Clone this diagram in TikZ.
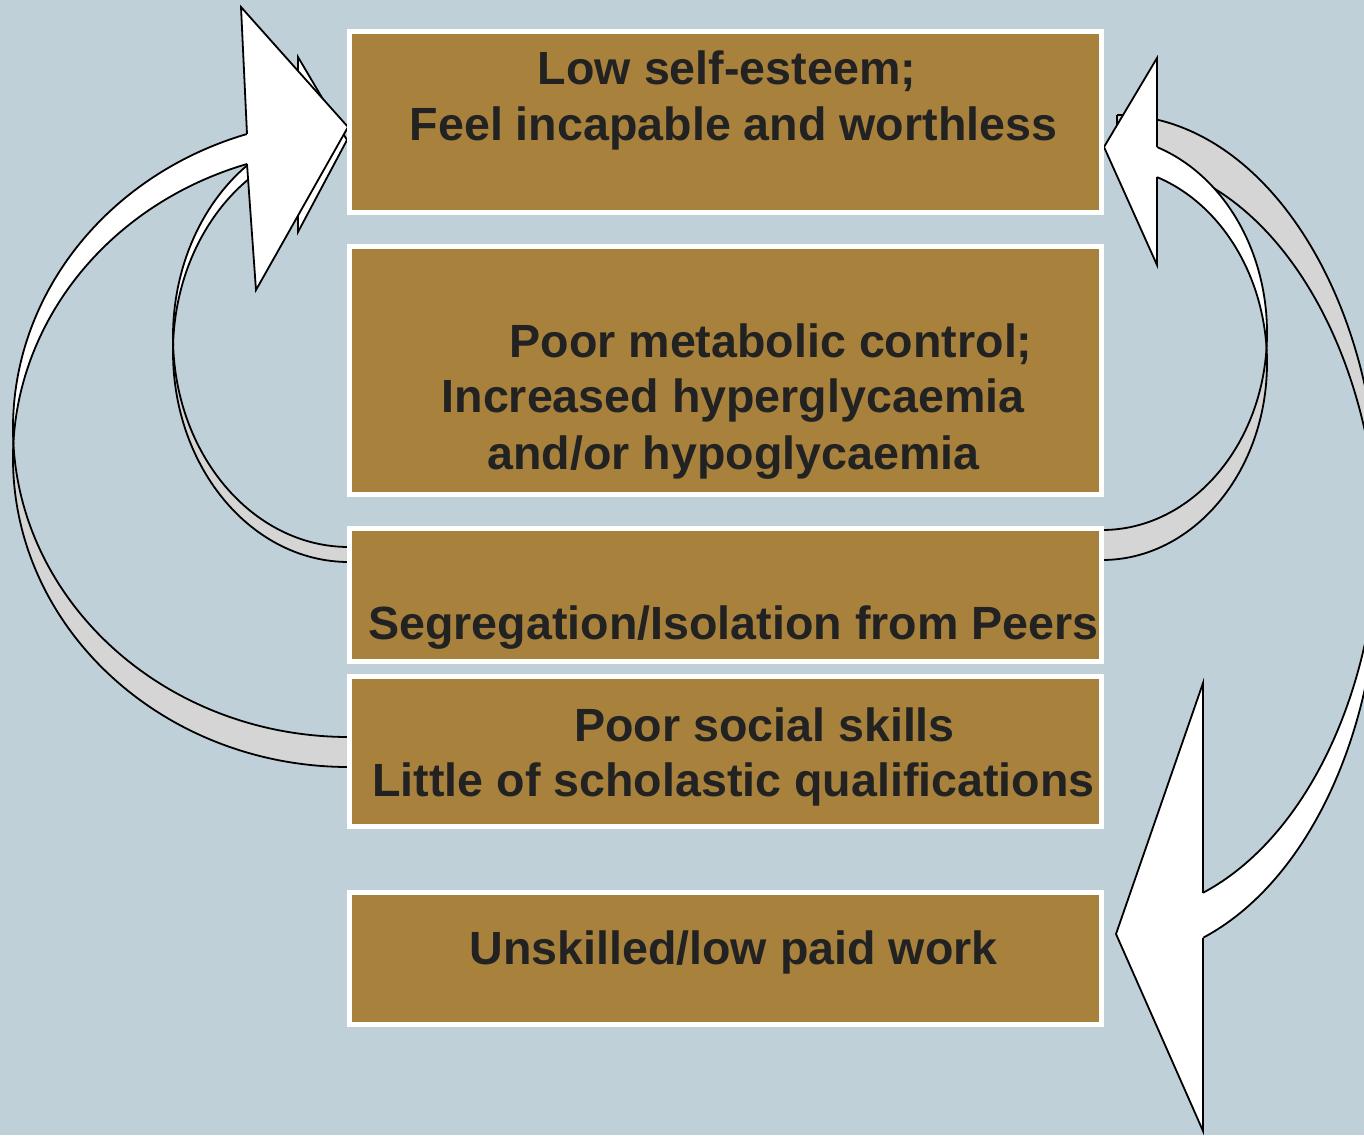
\documentclass[tikz,border=0pt]{standalone}
\usepackage{fontspec}
\setmainfont{Liberation Sans}
\definecolor{bgblue}{RGB}{192,208,216}
\definecolor{boxfill}{RGB}{168,130,60}
\definecolor{bandgrey}{RGB}{213,213,213}
\definecolor{textdark}{RGB}{34,34,34}
\tikzset{
  box/.style={draw=white, line width=2.5pt, fill=boxfill, inner sep=0pt, outer sep=0pt,
              anchor=north west, minimum width=376pt},
  txt/.style={anchor=base, inner sep=0pt, text=textdark,
              font=\fontsize{23.3pt}{28pt}\selectfont\bfseries},
  edge/.style={draw=black, line width=0.9pt, line join=miter},
  under/.style={fill=bandgrey},
  front/.style={fill=white},
}
\begin{document}
\begin{tikzpicture}[x=0.5pt, y=-0.5pt]
\useasboundingbox (0,0) rectangle (1364,1135);
\fill[bgblue] (0,0) rectangle (1364,1135);
\begin{scope}
\clip (0,0) rectangle (1364,1135);
% Each ribbon is bounded by two equal ellipses shifted vertically by the
% ribbon thickness; where they cross, the ribbon turns its grey back side.

% ---- inner left ribbon: segregation -> self-esteem (behind) ----
\path[under] (349,562) arc[start angle=90,end angle=182.04,x radius=176,y radius=210.2]
  arc[start angle=177.96,end angle=90,x radius=176,y radius=210.2] -- cycle;
\path[front] (173.1,344.3) arc[start angle=177.96,end angle=253.15,x radius=176,y radius=210.2]
  -- (298,150.6) arc[start angle=253.15,end angle=182.04,x radius=176,y radius=210.2] -- cycle;
\draw[edge] (349,562) arc[start angle=90,end angle=253.15,x radius=176,y radius=210.2];
\draw[edge] (349,547) arc[start angle=90,end angle=253.15,x radius=176,y radius=210.2];
\path[front] (298,135.6) -- (298,57) -- (347,140) -- (298,232) -- (298,150.6) -- cycle;
\draw[edge] (298,135.6) -- (298,57) -- (347,140) -- (298,232) -- (298,150.6);

% ---- outer left ribbon: social skills -> self-esteem ----
\path[under] (349,767) arc[start angle=90,end angle=182.78,x radius=336,y radius=308.8]
  arc[start angle=177.22,end angle=90,x radius=336,y radius=308.8] -- cycle;
\path[front] (13.4,443.2) arc[start angle=177.22,end angle=252.33,x radius=336,y radius=308.8]
  -- (247,164) arc[start angle=252.33,end angle=182.78,x radius=336,y radius=308.8] -- cycle;
\draw[edge] (349,767) arc[start angle=90,end angle=252.33,x radius=336,y radius=308.8];
\draw[edge] (349,737) arc[start angle=90,end angle=252.33,x radius=336,y radius=308.8];
\path[front] (247,134) -- (241,7) -- (348,127) -- (256,290) -- (247,164) -- cycle;
\draw[edge] (247,134) -- (241,7) -- (348,127) -- (256,290) -- (247,164);

% ---- outer right ribbon: self-esteem -> unskilled work ----
\path[under] (1117,115) arc[start angle=-90,end angle=3.22,x radius=261.8,y radius=400]
  arc[start angle=-3.22,end angle=-90,x radius=261.8,y radius=400] -- cycle;
\path[front] (1378.4,537.5) arc[start angle=3.22,end angle=70.82,x radius=261.8,y radius=400]
  -- (1203,937.8) arc[start angle=70.82,end angle=-3.22,x radius=261.8,y radius=400] -- cycle;
\draw[edge] (1117,115) arc[start angle=-90,end angle=70.82,x radius=261.8,y radius=400];
\draw[edge] (1117,160) arc[start angle=-90,end angle=70.82,x radius=261.8,y radius=400];
\draw[edge] (1117,115) -- (1117,160);
\path[front] (1203,892.8) -- (1203,683) -- (1116,934) -- (1203,1131) -- (1203,937.8) -- cycle;
\draw[edge] (1203,892.8) -- (1203,683) -- (1116,934) -- (1203,1131) -- (1203,937.8);

% ---- inner right ribbon: segregation -> self-esteem ----
\path[under] (1102,560) arc[start angle=90,end angle=-4.37,x radius=165,y radius=197.1]
  arc[start angle=4.37,end angle=90,x radius=165,y radius=197.1] -- cycle;
\path[front] (1266.5,347.9) arc[start angle=4.37,end angle=-70.53,x radius=165,y radius=197.1]
  -- (1157,177.1) arc[start angle=-70.53,end angle=-4.37,x radius=165,y radius=197.1] -- cycle;
\draw[edge] (1102,560) arc[start angle=90,end angle=-70.53,x radius=165,y radius=197.1];
\draw[edge] (1102,530) arc[start angle=90,end angle=-70.53,x radius=165,y radius=197.1];
\path[front] (1157,147.1) -- (1157,58) -- (1104,147) -- (1157,265) -- (1157,177.1) -- cycle;
\draw[edge] (1157,147.1) -- (1157,58) -- (1104,147) -- (1157,265) -- (1157,177.1);
\end{scope}

% ---- boxes ----
\node[box, minimum height=90.5pt]  (b1) at (349.5,31.5)  {};
\node[box, minimum height=123.75pt] (b2) at (349.5,246.5) {};
\node[box, minimum height=66.25pt] (b3) at (349.5,528.5) {};
\node[box, minimum height=74.75pt] (b4) at (349.5,676.5) {};
\node[box, minimum height=65.75pt] (b5) at (349.5,892.5) {};

% ---- labels ----
\node[txt] (t1a) at (727,84.5)   {Low self-esteem;};
\node[txt] (t1b) at (733.5,140)  {Feel incapable and worthless};
\node[txt] (t2a) at (771,357)    {Poor metabolic control;};
\node[txt] (t2b) at (733,412)    {Increased hyperglycaemia};
\node[txt] (t2c) at (733.5,469)  {and/or hypoglycaemia};
\node[txt] (t3a) at (733.5,639)  {Segregation/Isolation from Peers};
\node[txt] (t4a) at (764.5,741)  {Poor social skills};
\node[txt] (t4b) at (733.5,796)  {Little of scholastic qualifications};
\node[txt] (t5a) at (733.5,964)  {Unskilled/low paid work};
\end{tikzpicture}
\end{document}
